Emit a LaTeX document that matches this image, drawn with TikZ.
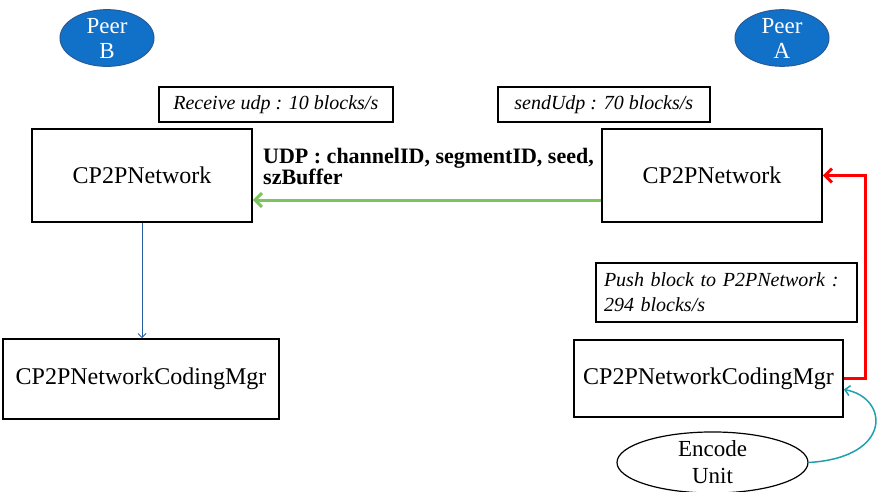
\documentclass[tikz,border=0pt]{standalone}
\usepackage{fontspec}
\setmainfont{Liberation Serif}
\usetikzlibrary{arrows.meta,shapes.geometric}
\definecolor{peerblue}{RGB}{17,112,200}
\definecolor{peeredge}{RGB}{40,90,150}
\definecolor{udpgreen}{RGB}{122,198,92}
\definecolor{encteal}{RGB}{32,160,172}
\definecolor{downblue}{RGB}{36,94,160}
\tikzset{
  box/.style={draw, line width=1.6pt, fill=white, align=center, inner sep=2pt, font=\fontsize{24}{26}\selectfont},
  tag/.style={draw, line width=1.6pt, fill=white, font=\fontsize{20}{25}\selectfont\itshape, inner sep=3pt},
  peer/.style={ellipse, draw=peeredge, line width=1pt, fill=peerblue, text=white, align=center, minimum width=94pt, minimum height=56pt, inner sep=0pt, font=\fontsize{23}{25}\selectfont},
}
\begin{document}
\begin{tikzpicture}[x=1pt,y=-1pt]
\useasboundingbox (0,0) rectangle (879,491);
\node[peer] (pb) at (107,38) {Peer\\B};
\node[peer] (pa) at (782,38) {Peer\\A};
\node[tag, minimum width=234pt, minimum height=35pt, anchor=west] (rt) at (158,104.5) {Receive udp : 10 blocks/s};
\node[tag, minimum width=212pt, minimum height=35pt, anchor=west] (st) at (497,104.5) {sendUdp : 70 blocks/s};
\node[box, minimum width=220pt, minimum height=93pt] (ln) at (142,175.5) {CP2PNetwork};
\node[box, minimum width=220pt, minimum height=93pt] (rn) at (712,175.5) {CP2PNetwork};
\node[box, minimum width=276pt, minimum height=80pt] (lc) at (141,379) {CP2PNetworkCodingMgr};
\node[box, minimum width=269pt, minimum height=77pt] (rc) at (708.5,378.5) {CP2PNetworkCodingMgr};
\node[tag, minimum width=261pt, minimum height=59pt, align=left, text width=245pt] (pt) at (726.5,292.5) {Push block to P2PNetwork :\\294 blocks/s};
\node[ellipse, draw, line width=1.2pt, minimum width=191pt, minimum height=51pt, inner sep=0pt, align=center, font=\fontsize{23}{27}\selectfont] (enc) at (712.5,462.5) {Encode\\Unit};
\node[anchor=north west, align=left, inner sep=0pt, font=\fontsize{22}{21}\selectfont\bfseries] (udp) at (263,148) {UDP : channelID, segmentID, seed,\\szBuffer};
\draw[udpgreen, line width=3pt, -{Straight Barb[length=7pt,width=14pt]}] ([yshift=-24.5pt]rn.west) -- ([yshift=-24.5pt]ln.east);
\draw[downblue, line width=1pt, -{Straight Barb[length=4pt,width=8pt]}] (ln.south) -- (ln.south |- lc.north);
\draw[red, line width=3pt, -{Straight Barb[length=7pt,width=14pt]}] (rc.east) -- ++(22,0) |- (rn.east);
\draw[encteal, line width=1.5pt, -{Straight Barb[length=5pt,width=10pt]}] (enc.east) .. controls +(85,-5) and +(45,8) .. ([yshift=-11pt]rc.east);
\end{tikzpicture}
\end{document}
